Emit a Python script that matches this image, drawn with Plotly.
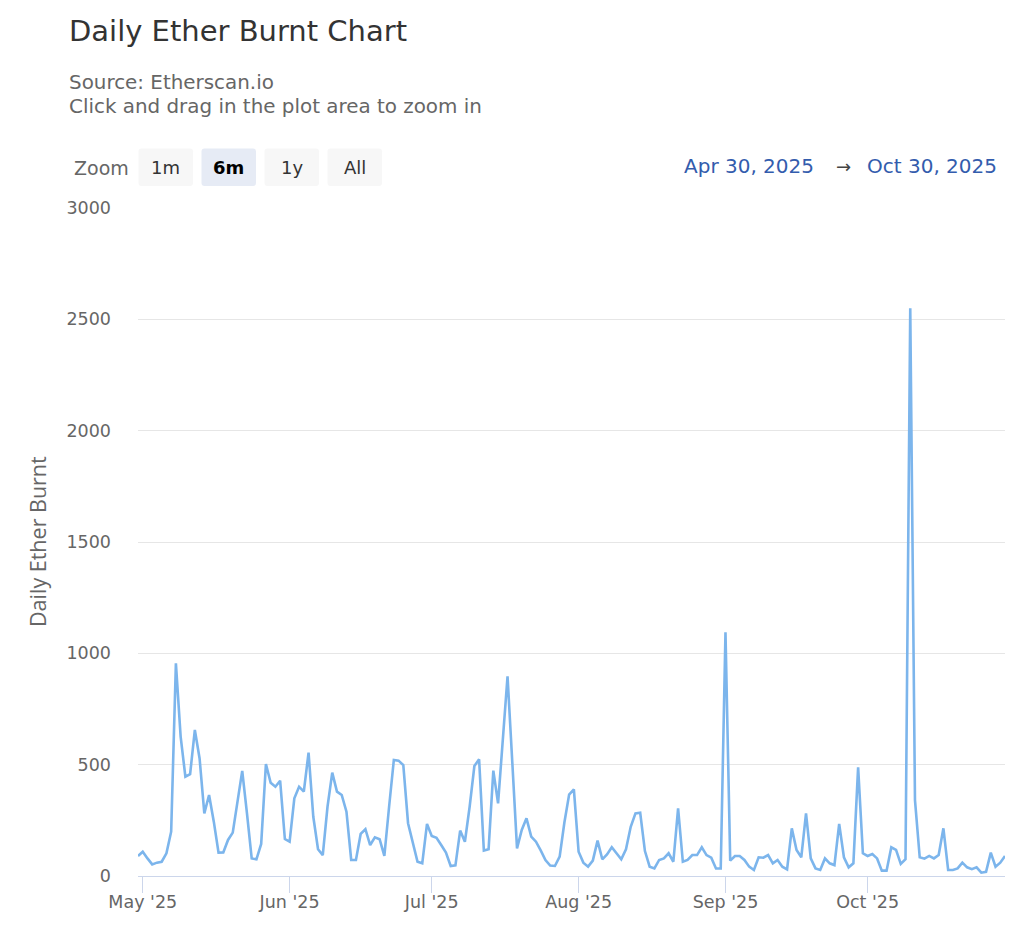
import plotly.graph_objects as go
import pandas as pd

# ---------------- data ----------------
start_date = "2025-04-30"
end_date = "2025-10-30"
dates = pd.date_range(start_date, end_date, freq="D")

ether_burnt = [
    90, 109, 79, 52, 60, 64, 102, 199, 955, 626,
    446, 457, 656, 528, 281, 364, 244, 105, 106, 162,
    195, 326, 472, 281, 79, 75, 144, 503, 419, 401,
    428, 166, 154, 349, 401, 379, 554, 266, 120, 94,
    311, 464, 379, 364, 289, 72, 72, 189, 210, 139,
    174, 165, 90, 311, 521, 518, 498, 237, 147, 64,
    57, 234, 180, 172, 139, 105, 45, 48, 204, 154,
    311, 494, 524, 114, 120, 473, 326, 611, 897, 512,
    124, 207, 259, 177, 154, 115, 72, 47, 45, 87,
    240, 366, 389, 109, 60, 42, 69, 159, 75, 97,
    129, 102, 75, 120, 221, 281, 284, 112, 42, 34,
    72, 79, 102, 64, 304, 64, 72, 94, 94, 129,
    94, 82, 34, 34, 1095, 69, 90, 90, 72, 42,
    27, 84, 82, 94, 57, 72, 42, 30, 214, 117,
    84, 281, 79, 34, 27, 79, 57, 49, 234, 84,
    39, 57, 488, 102, 90, 99, 79, 24, 24, 129,
    117, 54, 75, 2550, 341, 84, 78, 90, 79, 94,
    214, 27, 27, 34, 60, 39, 31, 39, 15, 19,
    105, 42, 60, 90,
]

month_ticks = ["2025-05-01", "2025-06-01", "2025-07-01", "2025-08-01", "2025-09-01", "2025-10-01"]
month_labels = ["May '25", "Jun '25", "Jul '25", "Aug '25", "Sep '25", "Oct '25"]
y_ticks = [0, 500, 1000, 1500, 2000, 2500, 3000]

title_text = "Daily Ether Burnt Chart"
subtitle_lines = ["Source: Etherscan.io", "Click and drag in the plot area to zoom in"]
zoom_buttons = ["1m", "6m", "1y", "All"]
active_button = "6m"
range_from = "Apr 30, 2025"
range_to = "Oct 30, 2025"
y_title = "Daily Ether Burnt"

# ---------------- layout geometry (pixels) ----------------
W, H = 1024, 939
L, R, T, B = 138, 1005, 208, 876


def xp(px):
    return (px - L) / (R - L)


def yp(py):
    return (B - py) / (B - T)


FONT = "DejaVu Sans"

fig = go.Figure()
fig.add_trace(go.Scatter(
    x=dates, y=ether_burnt, mode="lines",
    line=dict(color="#7cb5ec", width=2.6),
    hoverinfo="x+y", showlegend=False,
))

annotations = []
shapes = []

# title and subtitle
annotations.append(dict(text=title_text, x=xp(68), y=yp(31), xref="paper", yref="paper",
                        xanchor="left", yanchor="middle", showarrow=False, borderpad=0,
                        font=dict(family=FONT, size=29, color="#333333")))
for i, line in enumerate(subtitle_lines):
    annotations.append(dict(text=line, x=xp(68), y=yp(82 + 24 * i), xref="paper", yref="paper",
                            xanchor="left", yanchor="middle", showarrow=False, borderpad=0,
                            font=dict(family=FONT, size=19.9, color="#666666")))

# zoom label + buttons
annotations.append(dict(text="Zoom", x=xp(73), y=yp(168), xref="paper", yref="paper",
                        xanchor="left", yanchor="middle", showarrow=False, borderpad=0,
                        font=dict(family=FONT, size=19, color="#666666")))
btn_left = [138.5, 201.5, 264.5, 327.5]
btn_w, btn_top, btn_bot, rad = 54.5, 148.5, 186, 3
for lbl, bx in zip(zoom_buttons, btn_left):
    x0, x1 = bx, bx + btn_w
    active = lbl == active_button
    path = (f"M {xp(x0 + rad)} {yp(btn_top)} L {xp(x1 - rad)} {yp(btn_top)} "
            f"Q {xp(x1)} {yp(btn_top)} {xp(x1)} {yp(btn_top + rad)} "
            f"L {xp(x1)} {yp(btn_bot - rad)} Q {xp(x1)} {yp(btn_bot)} {xp(x1 - rad)} {yp(btn_bot)} "
            f"L {xp(x0 + rad)} {yp(btn_bot)} Q {xp(x0)} {yp(btn_bot)} {xp(x0)} {yp(btn_bot - rad)} "
            f"L {xp(x0)} {yp(btn_top + rad)} Q {xp(x0)} {yp(btn_top)} {xp(x0 + rad)} {yp(btn_top)} Z")
    shapes.append(dict(type="path", path=path, xref="paper", yref="paper",
                       fillcolor="#e6ebf5" if active else "#f7f7f7", line=dict(width=0),
                       layer="below"))
    annotations.append(dict(text=f"<b>{lbl}</b>" if active else lbl,
                            x=xp((x0 + x1) / 2), y=yp((btn_top + btn_bot) / 2),
                            xref="paper", yref="paper", xanchor="center", yanchor="middle",
                            showarrow=False, borderpad=0,
                            font=dict(family=FONT, size=18, color="#000000" if active else "#333333")))

# date range display
annotations.append(dict(text=range_from, x=xp(815), y=yp(166), xref="paper", yref="paper",
                        xanchor="right", yanchor="middle", showarrow=False, borderpad=0,
                        font=dict(family=FONT, size=20, color="#335cad")))
annotations.append(dict(text="→", x=xp(843), y=yp(166), xref="paper", yref="paper",
                        xanchor="center", yanchor="middle", showarrow=False, borderpad=0,
                        font=dict(family=FONT, size=18, color="#444444")))
annotations.append(dict(text=range_to, x=xp(998), y=yp(166), xref="paper", yref="paper",
                        xanchor="right", yanchor="middle", showarrow=False, borderpad=0,
                        font=dict(family=FONT, size=20, color="#335cad")))

# y axis title
annotations.append(dict(text=y_title, x=xp(37), y=yp(542), xref="paper", yref="paper",
                        xanchor="center", yanchor="middle", textangle=-90, showarrow=False,
                        borderpad=0, font=dict(family="Open Sans", size=21.5, color="#666666")))

fig.update_layout(
    width=W, height=H,
    margin=dict(l=L, r=W - R, t=T, b=H - B, pad=0),
    paper_bgcolor="#ffffff", plot_bgcolor="#ffffff",
    font=dict(family=FONT, color="#666666"),
    showlegend=False,
    annotations=annotations,
    shapes=shapes,
    xaxis=dict(
        type="date", range=[start_date, end_date],
        tickmode="array", tickvals=month_ticks, ticktext=month_labels,
        ticks="outside", ticklen=16, tickwidth=1, tickcolor="#ccd6eb",
        ticklabelstandoff=-6,
        showline=True, linecolor="#ccd6eb", linewidth=1,
        showgrid=False, zeroline=False,
        tickfont=dict(family=FONT, size=17.5, color="#666666"),
    ),
    yaxis=dict(
        range=[0, 3000], tickmode="array", tickvals=y_ticks,
        ticktext=[str(v) for v in y_ticks],
        showgrid=True, gridcolor="#e6e6e6", gridwidth=1,
        zeroline=False, showline=False, ticks="",
        ticklabelstandoff=26,
        tickfont=dict(family=FONT, size=17.5, color="#666666"),
    ),
)

fig.write_html("out.html")
